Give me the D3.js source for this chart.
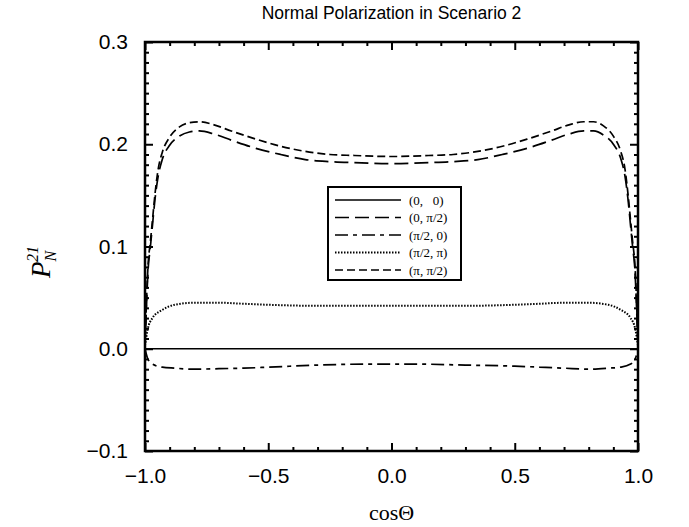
<!DOCTYPE html>
<html>
<head>
<meta charset="utf-8">
<script src="https://cdn.jsdelivr.net/npm/d3@7"></script>
<style>
  body { margin: 0; background: #fff; }
  text { fill: #000; }
</style>
</head>
<body>
<div id="chart"></div>
<script>
// values
const xTop = [-1, -0.995, -0.988, -0.978, -0.97, -0.96, -0.947, -0.93, -0.9, -0.86, -0.82, -0.78, -0.72, -0.65, -0.55, -0.45, -0.35, -0.25, -0.15, 0,
              0.15, 0.25, 0.35, 0.45, 0.55, 0.65, 0.72, 0.78, 0.82, 0.86, 0.9, 0.93, 0.947, 0.96, 0.97, 0.978, 0.988, 0.995, 1];
const yPiPi2 = [0, 0.04, 0.08, 0.105, 0.125, 0.15, 0.175, 0.192, 0.207, 0.217, 0.221, 0.222, 0.219, 0.213, 0.205, 0.198, 0.193, 0.19, 0.189, 0.188,
                0.189, 0.19, 0.193, 0.198, 0.205, 0.213, 0.219, 0.222, 0.222, 0.218, 0.208, 0.193, 0.176, 0.15, 0.125, 0.105, 0.08, 0.04, 0];
const y0Pi2 = [0, 0.035, 0.075, 0.1, 0.12, 0.145, 0.168, 0.185, 0.199, 0.208, 0.212, 0.213, 0.21, 0.204, 0.196, 0.19, 0.185, 0.183, 0.182, 0.181,
               0.182, 0.183, 0.185, 0.19, 0.196, 0.204, 0.21, 0.213, 0.213, 0.209, 0.2, 0.186, 0.169, 0.145, 0.12, 0.1, 0.075, 0.035, 0];

const xLow = [-1, -0.99, -0.97, -0.93, -0.88, -0.8, -0.7, -0.6, -0.5, -0.3, -0.1, 0, 0.1, 0.3, 0.5, 0.6, 0.7, 0.8, 0.88, 0.93, 0.97, 0.99, 1];
const yPi2Pi = [0.003, 0.018, 0.03, 0.038, 0.043, 0.045, 0.045, 0.044, 0.043, 0.042, 0.042, 0.042, 0.042, 0.042, 0.043, 0.044, 0.045, 0.045, 0.043, 0.038, 0.03, 0.018, 0.003];
const yPi20 = [0, -0.009, -0.015, -0.018, -0.019, -0.02, -0.0195, -0.019, -0.018, -0.016, -0.015, -0.015, -0.015, -0.016, -0.017, -0.018, -0.019, -0.02, -0.019, -0.018, -0.015, -0.009, 0];

const x00 = [-1, 1];
const y00 = [0, 0];

const seriesNames = ["(0,   0)", "(0, \u03c0/2)", "(\u03c0/2, 0)", "(\u03c0/2, \u03c0)", "(\u03c0, \u03c0/2)"];
const seriesDash = ["none", "14,6", "13,5,4,5", "1.5,1.5", "8,4"];

const xTicks = [-1, -0.5, 0, 0.5, 1];
const yTicks = [-0.1, 0, 0.1, 0.2, 0.3];

const width = 689, height = 527;
const mLeft = 145, mRight = 638, mTop = 42, mBottom = 451;

const svg = d3.select("#chart").append("svg")
    .attr("width", width)
    .attr("height", height);

const x = d3.scaleLinear().domain([-1, 1]).range([mLeft, mRight]);
const y = d3.scaleLinear().domain([-0.1, 0.3]).range([mBottom, mTop]);

const fmt = d => d3.format(".1f")(d).replace("-", "\u2212");

// minor tick values
const xMinor = d3.range(-10, 11).map(i => i / 10).filter(v => !xTicks.some(t => Math.abs(t - v) < 1e-9));
const yMinor = d3.range(-10, 31).map(i => i / 100).filter(v => !yTicks.some(t => Math.abs(t - v) < 1e-9));

function styleAxis(g) {
    g.select(".domain").remove();
    g.selectAll("line").attr("stroke", "#000").attr("stroke-width", 2);
}

// major ticks, all four sides, pointing inward
svg.append("g").attr("transform", `translate(0,${mBottom})`)
    .call(d3.axisBottom(x).tickValues(xTicks).tickSizeInner(-8).tickSizeOuter(0).tickPadding(17).tickFormat(fmt))
    .call(styleAxis)
    .selectAll("text").attr("font-family", "Liberation Sans, Arial, sans-serif").attr("font-size", 21);
svg.append("g").attr("transform", `translate(0,${mTop})`)
    .call(d3.axisTop(x).tickValues(xTicks).tickSizeInner(-8).tickSizeOuter(0).tickFormat(""))
    .call(styleAxis);
svg.append("g").attr("transform", `translate(${mLeft},0)`)
    .call(d3.axisLeft(y).tickValues(yTicks).tickSizeInner(-8).tickSizeOuter(0).tickPadding(17).tickFormat(fmt))
    .call(styleAxis)
    .selectAll("text").attr("font-family", "Liberation Sans, Arial, sans-serif").attr("font-size", 21);
svg.append("g").attr("transform", `translate(${mRight},0)`)
    .call(d3.axisRight(y).tickValues(yTicks).tickSizeInner(-8).tickSizeOuter(0).tickFormat(""))
    .call(styleAxis);

// minor ticks
svg.append("g").attr("transform", `translate(0,${mBottom})`)
    .call(d3.axisBottom(x).tickValues(xMinor).tickSizeInner(-4).tickSizeOuter(0).tickFormat(""))
    .call(styleAxis);
svg.append("g").attr("transform", `translate(0,${mTop})`)
    .call(d3.axisTop(x).tickValues(xMinor).tickSizeInner(-4).tickSizeOuter(0).tickFormat(""))
    .call(styleAxis);
svg.append("g").attr("transform", `translate(${mLeft},0)`)
    .call(d3.axisLeft(y).tickValues(yMinor).tickSizeInner(-4).tickSizeOuter(0).tickFormat(""))
    .call(styleAxis);
svg.append("g").attr("transform", `translate(${mRight},0)`)
    .call(d3.axisRight(y).tickValues(yMinor).tickSizeInner(-4).tickSizeOuter(0).tickFormat(""))
    .call(styleAxis);

// frame
svg.append("rect")
    .attr("x", mLeft).attr("y", mTop)
    .attr("width", mRight - mLeft).attr("height", mBottom - mTop)
    .attr("fill", "none").attr("stroke", "#000").attr("stroke-width", 2.5);

// curves
const series = [
    { xs: x00, ys: y00 },
    { xs: xTop, ys: y0Pi2 },
    { xs: xLow, ys: yPi20 },
    { xs: xLow, ys: yPi2Pi },
    { xs: xTop, ys: yPiPi2 }
];

const line = d3.line()
    .x(d => x(d[0]))
    .y(d => y(d[1]))
    .curve(d3.curveMonotoneX);

series.forEach((s, i) => {
    svg.append("path")
        .datum(s.xs.map((v, j) => [v, s.ys[j]]))
        .attr("d", line)
        .attr("fill", "none")
        .attr("stroke", "#000")
        .attr("stroke-width", i === 3 ? 2 : 1.7)
        .attr("stroke-dasharray", seriesDash[i]);
});

// legend
const legend = svg.append("g").attr("transform", "translate(328,187)");
legend.append("rect")
    .attr("width", 133).attr("height", 93)
    .attr("fill", "#fff").attr("stroke", "#000").attr("stroke-width", 2);
seriesNames.forEach((name, i) => {
    const ly = 13 + i * 17.5;
    legend.append("line")
        .attr("x1", 7).attr("x2", 73).attr("y1", ly).attr("y2", ly)
        .attr("stroke", "#000").attr("stroke-width", i === 3 ? 2 : 1.6)
        .attr("stroke-dasharray", seriesDash[i]);
    legend.append("text")
        .attr("x", 81).attr("y", ly).attr("dy", "0.35em")
        .attr("font-family", "Liberation Serif, Times New Roman, serif")
        .attr("font-size", 13)
        .style("white-space", "pre")
        .text(name);
});

// title
svg.append("text")
    .attr("x", (mLeft + mRight) / 2).attr("y", 19)
    .attr("text-anchor", "middle")
    .attr("font-family", "Liberation Sans, Arial, sans-serif")
    .attr("font-size", 17.5)
    .text("Normal Polarization in Scenario 2");

// x label
svg.append("text")
    .attr("x", (mLeft + mRight) / 2).attr("y", 520)
    .attr("text-anchor", "middle")
    .attr("font-family", "Liberation Serif, Times New Roman, serif")
    .attr("font-size", 22)
    .text("cos\u0398");

// y label
const yl = svg.append("text")
    .attr("transform", "translate(50,262) rotate(-90)")
    .attr("text-anchor", "middle")
    .attr("font-family", "Liberation Serif, Times New Roman, serif")
    .attr("font-style", "italic");
yl.append("tspan").attr("font-size", 27).text("P");
yl.append("tspan").attr("font-size", 16).attr("dy", 6).attr("dx", 0).text("N");
yl.append("tspan").attr("font-size", 16).attr("dy", -18).attr("dx", -11).text("21");
</script>
</body>
</html>
